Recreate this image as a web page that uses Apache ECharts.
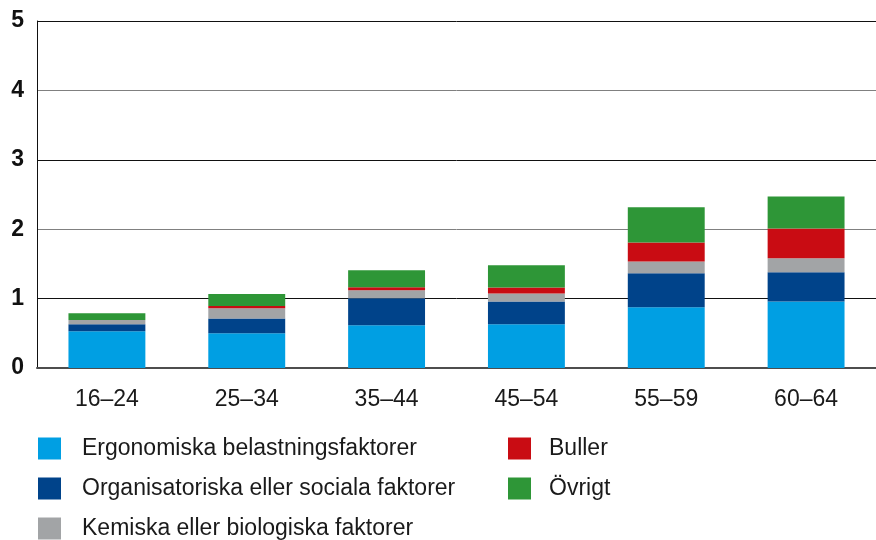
<!DOCTYPE html>
<html>
<head>
<meta charset="utf-8">
<script src="https://cdn.jsdelivr.net/npm/echarts@6/dist/echarts.min.js"></script>
<style>
  html, body { margin: 0; padding: 0; background: #fff; }
  #main { width: 876px; height: 540px; }
</style>
</head>
<body>
<div id="main"></div>
<script>
var ages = ['16–24', '25–34', '35–44', '45–54', '55–59', '60–64'];
var ergonomiska = [0.53, 0.50, 0.615, 0.63, 0.875, 0.96];
var organisatoriska = [0.10, 0.215, 0.39, 0.33, 0.49, 0.42];
var kemiska = [0.06, 0.145, 0.115, 0.115, 0.17, 0.20];
var buller = [0, 0.035, 0.045, 0.085, 0.275, 0.43];
var ovrigt = [0.10, 0.17, 0.245, 0.32, 0.505, 0.46];
var yTicks = [0, 1, 2, 3, 4, 5];

var names = ['Ergonomiska belastningsfaktorer', 'Organisatoriska eller sociala faktorer',
  'Kemiska eller biologiska faktorer', 'Buller', 'Övrigt'];
var colors = ['#009fe3', '#00438a', '#a2a4a6', '#c90c13', '#2e9637'];
var values = [ergonomiska, organisatoriska, kemiska, buller, ovrigt];

var narrow = '"Liberation Sans Narrow", "Liberation Sans", sans-serif';

var myChart = echarts.init(document.getElementById('main'));

var series = [];
for (var i = 0; i < names.length; i++) {
  series.push({
    name: names[i],
    type: 'bar',
    stack: 'total',
    barWidth: '55%',
    itemStyle: { color: colors[i] },
    data: values[i]
  });
}

var option = {
  animation: false,
  grid: { left: 37, right: -8, top: 21, bottom: 172 },
  legend: [
    {
      data: names.slice(0, 3),
      orient: 'vertical',
      left: 38, top: 437, padding: 0, height: 110,
      itemWidth: 23, itemHeight: 22, itemGap: 17,
      icon: 'rect',
      textStyle: { fontFamily: narrow, fontSize: 23, color: '#1a1a1a', padding: [0, 0, 0, 16] }
    },
    {
      data: names.slice(3),
      orient: 'vertical',
      left: 508, top: 437, padding: 0, height: 110,
      itemWidth: 23, itemHeight: 22, itemGap: 17,
      icon: 'rect',
      textStyle: { fontFamily: narrow, fontSize: 23, color: '#1a1a1a', padding: [0, 0, 0, 13] }
    }
  ],
  xAxis: {
    type: 'category',
    data: ages,
    axisTick: { show: false },
    axisLine: { show: true, lineStyle: { color: '#4d4d4d', width: 2 } },
    axisLabel: { fontFamily: narrow, fontSize: 23, color: '#1a1a1a', margin: 20 }
  },
  yAxis: {
    type: 'value',
    min: yTicks[0],
    max: yTicks[yTicks.length - 1],
    interval: 1,
    axisLine: { show: true, lineStyle: { color: '#111', width: 1 } },
    axisTick: { show: false },
    axisLabel: {
      fontFamily: '"Liberation Sans", Arial, sans-serif',
      fontWeight: 'bold', fontSize: 23, color: '#111', margin: 13
    },
    splitLine: {
      show: true,
      lineStyle: { color: ['#4d4d4d', '#111', '#808080', '#111', '#808080', '#111'], width: 1 }
    }
  },
  series: series
};

myChart.setOption(option);
</script>
</body>
</html>
